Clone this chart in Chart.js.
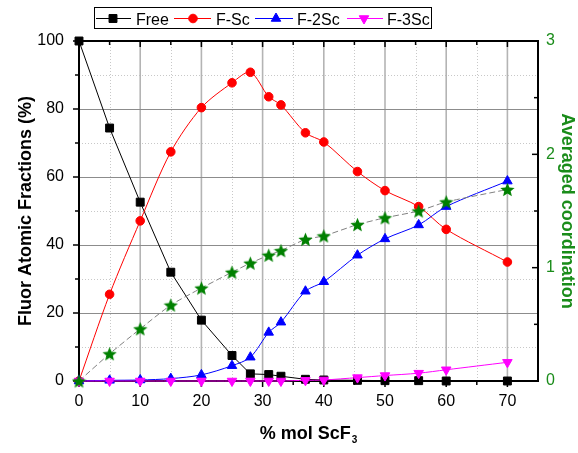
<!DOCTYPE html>
<html>
<head>
<meta charset="utf-8">
<script src="https://cdn.jsdelivr.net/npm/chart.js@4/dist/chart.umd.min.js"></script>
<style>
  html, body { margin: 0; padding: 0; background: #fff; }
  #wrap { width: 578px; height: 453px; position: relative; }
</style>
</head>
<body>
<div id="wrap"><canvas id="c"></canvas></div>
<script>
// ---- data ----
const molScF3 = [0, 5, 10, 15, 20, 25, 28, 31, 33, 37, 40, 45.5, 50, 55.5, 60, 70];
const freeF   = [100, 74.4, 52.6, 32.0, 17.9, 7.5, 2.1, 1.9, 1.4, 0.5, 0.3, 0.2, 0.1, 0.1, 0.0, 0.0];
const fSc     = [0, 25.5, 47.1, 67.4, 80.4, 87.7, 90.8, 83.6, 81.2, 73.0, 70.3, 61.6, 56.0, 51.3, 44.6, 35.0];
const f2Sc    = [0, 0.2, 0.3, 0.7, 1.8, 4.5, 7.0, 14.3, 17.3, 26.4, 29.2, 37.0, 41.8, 45.9, 51.3, 58.8];
const f3Sc    = [0, 0, 0, 0, 0, 0, 0, 0, 0, 0.2, 0.3, 1.0, 1.6, 2.3, 3.3, 5.5];
const avgCoord = [0, 0.24, 0.46, 0.67, 0.82, 0.96, 1.04, 1.11, 1.15, 1.25, 1.28, 1.38, 1.44, 1.50, 1.58, 1.69];

const xTicks  = [0, 10, 20, 30, 40, 50, 60, 70];
const xMinor  = [5, 15, 25, 35, 45, 55, 65];
const yTicks  = [0, 20, 40, 60, 80, 100];
const yMinor  = [10, 30, 50, 70, 90];
const y1Ticks = [0, 1, 2, 3];
const y1Minor = [0.5, 1.5, 2.5];

const seriesNames = ['Free', 'F-Sc', 'F-2Sc', 'F-3Sc'];
const GREEN = '#008000';
const FONT = '"Liberation Sans", Arial, sans-serif';

// star image for the averaged coordination markers
function makeStar(size) {
  const c = document.createElement('canvas');
  c.width = size; c.height = size;
  const g = c.getContext('2d');
  const cx = size / 2, cy = size / 2 + 0.7, R = size / 2, r = R * 0.45;
  g.beginPath();
  for (let i = 0; i < 10; i++) {
    const rad = i % 2 === 0 ? R : r;
    const a = -Math.PI / 2 + i * Math.PI / 5;
    const px = cx + rad * Math.cos(a), py = cy + rad * Math.sin(a);
    if (i === 0) g.moveTo(px, py); else g.lineTo(px, py);
  }
  g.closePath();
  g.fillStyle = GREEN;
  g.fill();
  return c;
}
const starImg = makeStar(15);

const pts = (ys) => molScF3.map((x, i) => ({ x: x, y: ys[i] }));

// ---- plugin: grid, frame, ticks, legend, x title ----
const decor = {
  id: 'decor',
  beforeDatasetsDraw(chart) {
    const { ctx, chartArea: a, scales } = chart;
    const sx = scales.x, sy = scales.y, sy1 = scales.y1;
    ctx.save();
    // minor dotted grid
    ctx.strokeStyle = '#c8c8c8';
    ctx.lineWidth = 1;
    ctx.setLineDash([1, 2]);
    xMinor.forEach(v => {
      const p = Math.round(sx.getPixelForValue(v)) + 0.5;
      ctx.beginPath(); ctx.moveTo(p, a.top); ctx.lineTo(p, a.bottom); ctx.stroke();
    });
    yMinor.forEach(v => {
      const p = Math.round(sy.getPixelForValue(v)) + 0.5;
      ctx.beginPath(); ctx.moveTo(a.left, p); ctx.lineTo(a.right, p); ctx.stroke();
    });
    ctx.setLineDash([]);
    // major grid
    ctx.strokeStyle = '#b4b4b4';
    ctx.lineWidth = 1.6;
    xTicks.forEach(v => {
      if (v === 0) return;
      const p = sx.getPixelForValue(v);
      ctx.beginPath(); ctx.moveTo(p, a.top); ctx.lineTo(p, a.bottom); ctx.stroke();
    });
    ctx.strokeStyle = '#8c8c8c';
    ctx.lineWidth = 1;
    yTicks.forEach(v => {
      if (v === 0 || v === 100) return;
      const p = Math.round(sy.getPixelForValue(v)) + 0.5;
      ctx.beginPath(); ctx.moveTo(a.left, p); ctx.lineTo(a.right, p); ctx.stroke();
    });
    // frame
    ctx.strokeStyle = '#000';
    ctx.lineWidth = 2;
    ctx.strokeRect(a.left, a.top, a.right - a.left, a.bottom - a.top);
    // ticks
    ctx.lineWidth = 1.5;
    const tick = (x1, y1, x2, y2) => { ctx.beginPath(); ctx.moveTo(x1, y1); ctx.lineTo(x2, y2); ctx.stroke(); };
    xTicks.concat(xMinor).forEach(v => {
      const p = sx.getPixelForValue(v);
      const major = xTicks.includes(v);
      tick(p, a.bottom, p, a.bottom + (major ? 6 : 4));
      tick(p, a.top, p, a.top + (major ? 6 : 4));
    });
    yTicks.concat(yMinor).forEach(v => {
      const p = sy.getPixelForValue(v);
      const major = yTicks.includes(v);
      tick(a.left, p, a.left - (major ? 6 : 4), p);
    });
    y1Ticks.concat(y1Minor).forEach(v => {
      const p = sy1.getPixelForValue(v);
      const major = y1Ticks.includes(v);
      tick(a.right, p, a.right - (major ? 6 : 4), p);
    });
    ctx.restore();
  },
  afterDraw(chart) {
    const { ctx, chartArea: a } = chart;
    ctx.save();
    // legend box
    ctx.strokeStyle = '#000';
    ctx.lineWidth = 1;
    ctx.strokeRect(94.5, 7.5, 337, 21);
    const items = [
      { color: '#000000', style: 'rect', radius: 5.6, rot: 0, l0: 96, l1: 131, mx: 113, tx: 136 },
      { color: '#ff0000', style: 'circle', radius: 4.3, rot: 0, l0: 174, l1: 211, mx: 193, tx: 216 },
      { color: '#0000ff', style: 'triangle', radius: 5.5, rot: 0, l0: 255, l1: 293, mx: 276, tx: 297 },
      { color: '#ff00ff', style: 'triangle', radius: 5.5, rot: 180, l0: 347, l1: 383, mx: 364, tx: 387 }
    ];
    const ly = 18;
    ctx.font = '16px ' + FONT;
    ctx.textBaseline = 'alphabetic';
    ctx.textAlign = 'left';
    items.forEach((it, i) => {
      ctx.strokeStyle = it.color;
      ctx.lineWidth = 1;
      ctx.beginPath(); ctx.moveTo(it.l0, ly + 0.5); ctx.lineTo(it.l1, ly + 0.5); ctx.stroke();
      ctx.fillStyle = it.color;
      Chart.helpers.drawPoint(ctx, { pointStyle: it.style, radius: it.radius, rotation: it.rot, borderWidth: 1 }, it.mx, ly + 0.5);
      ctx.fillStyle = '#000';
      ctx.fillText(seriesNames[i], it.tx, 24.5);
    });
    // x-axis title with subscript
    const main = '% mol ScF', sub = '3';
    ctx.font = 'bold 18px ' + FONT;
    const wMain = ctx.measureText(main).width;
    ctx.font = 'bold 10px ' + FONT;
    const wSub = ctx.measureText(sub).width;
    const cx = (a.left + a.right) / 2;
    const x0 = cx - (wMain + wSub + 1) / 2;
    ctx.fillStyle = '#000';
    ctx.font = 'bold 18px ' + FONT;
    ctx.fillText(main, x0, 438.5);
    ctx.font = 'bold 10px ' + FONT;
    ctx.fillText(sub, x0 + wMain + 1, 443);
    ctx.restore();
  }
};

const ticksFrom = (arr) => (scale) => { scale.ticks = arr.map(v => ({ value: v })); };

new Chart(document.getElementById('c'), {
  type: 'line',
  data: {
    datasets: [
      {
        label: seriesNames[0], data: pts(freeF), order: 5,
        borderColor: '#000', backgroundColor: '#000', borderWidth: 1,
        pointStyle: 'rect', pointRadius: 5.6, pointBorderWidth: 1, tension: 0, clip: false
      },
      {
        label: seriesNames[1], data: pts(fSc), order: 4,
        borderColor: '#ff0000', backgroundColor: '#ff0000', borderWidth: 1,
        pointStyle: 'circle', pointRadius: 4.3, pointBorderWidth: 1, tension: 0.3, clip: false
      },
      {
        label: seriesNames[2], data: pts(f2Sc), order: 3,
        borderColor: '#0000ff', backgroundColor: '#0000ff', borderWidth: 1,
        pointStyle: 'triangle', pointRadius: 5.5, pointBorderWidth: 1, tension: 0.3, clip: false
      },
      {
        label: seriesNames[3], data: pts(f3Sc), order: 2,
        borderColor: '#ff00ff', backgroundColor: '#ff00ff', borderWidth: 1,
        pointStyle: 'triangle', rotation: 180, pointRotation: 180, pointRadius: 5.5, pointBorderWidth: 1, tension: 0.3, clip: false
      },
      {
        label: 'Averaged coordination', data: pts(avgCoord), order: 1, yAxisID: 'y1',
        borderColor: '#808080', backgroundColor: GREEN, borderWidth: 1, borderDash: [6, 3],
        pointStyle: starImg, pointRadius: 7, tension: 0.2, clip: false
      }
    ]
  },
  options: {
    responsive: true,
    maintainAspectRatio: false,
    animation: false,
    layout: { padding: { top: 41, left: 0, right: 0, bottom: 0 } },
    plugins: { legend: { display: false }, tooltip: { enabled: false } },
    scales: {
      x: {
        type: 'linear', position: 'bottom', min: 0, max: 75,
        afterBuildTicks: ticksFrom(xTicks),
        afterFit: (s) => { s.height = 72; },
        grid: { display: false, drawTicks: false },
        border: { display: false },
        ticks: { color: '#000', font: { family: FONT, size: 16 }, padding: 11, maxRotation: 0, autoSkip: false }
      },
      y: {
        type: 'linear', position: 'left', min: 0, max: 100,
        afterBuildTicks: ticksFrom(yTicks),
        afterFit: (s) => { s.width = 79; },
        grid: { display: false, drawTicks: false },
        border: { display: false },
        ticks: { color: '#000', font: { family: FONT, size: 16 }, padding: 15 },
        title: { display: true, text: 'Fluor Atomic Fractions (%)', color: '#000', font: { family: FONT, size: 18, weight: 'bold' }, padding: { top: 15, bottom: 0 } }
      },
      y1: {
        type: 'linear', position: 'right', min: 0, max: 3,
        afterBuildTicks: ticksFrom(y1Ticks),
        afterFit: (s) => { s.width = 40; },
        grid: { display: false, drawTicks: false },
        border: { display: false },
        ticks: { color: '#1a8c1a', font: { family: FONT, size: 16 }, padding: 8 },
        title: { display: true, text: 'Averaged coordination', color: '#1a8c1a', font: { family: FONT, size: 18, weight: 'bold' }, padding: { top: 0, bottom: 0 } }
      }
    }
  },
  plugins: [decor]
});
</script>
</body>
</html>
